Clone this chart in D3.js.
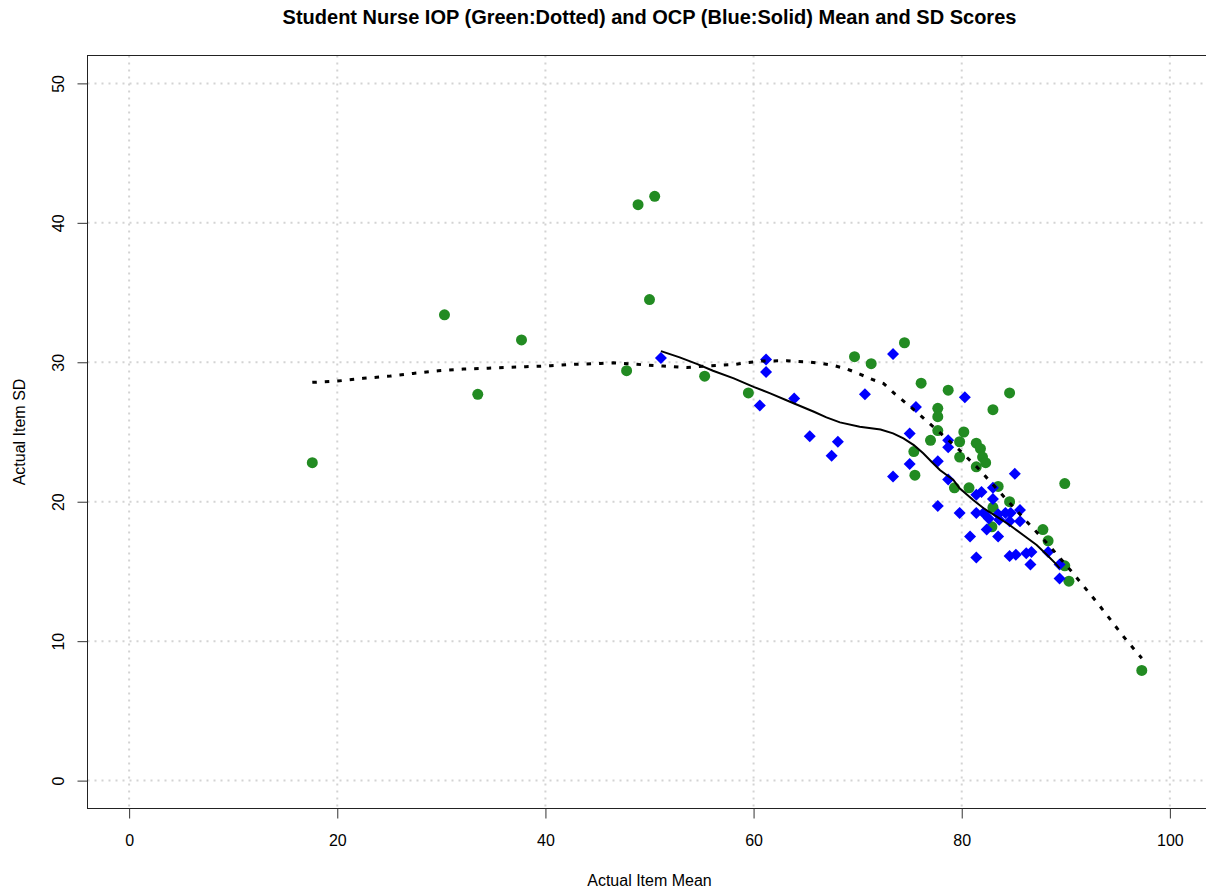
<!DOCTYPE html>
<html>
<head>
<meta charset="utf-8">
<script src="https://cdn.jsdelivr.net/npm/d3@7"></script>
<style>
    body { margin: 0; background: #fff; }
    text { font-family: "Liberation Sans", Arial, sans-serif; }
</style>
</head>
<body>
<svg id="chart" width="1206" height="892"></svg>
<script>
// tick values
const xTicks = [0, 20, 40, 60, 80, 100];
const yTicks = [0, 10, 20, 30, 40, 50];

// IOP (green) item mean / SD
const iopMean = [17.6, 30.3, 33.5, 37.7, 47.8, 48.9, 50.0, 50.5, 55.3, 59.5, 69.7, 71.3, 74.5, 75.4, 75.5,
    76.1, 77.0, 77.7, 77.7, 77.7, 78.7, 79.3, 79.8, 79.8, 80.2, 80.7, 81.4, 81.4, 81.8, 82.0, 82.3, 82.9,
    83.0, 83.0, 83.5, 84.6, 84.6, 87.8, 88.3, 89.9, 89.9, 90.3, 97.3];
const iopSd = [22.8, 33.4, 27.7, 31.6, 29.4, 41.3, 34.5, 41.9, 29.0, 27.8, 30.4, 29.9, 31.4, 23.6, 21.9,
    28.5, 24.4, 26.7, 26.1, 25.1, 28.0, 21.0, 24.3, 23.2, 25.0, 21.0, 24.2, 22.5, 23.8, 23.2, 22.8, 18.2,
    26.6, 19.6, 21.1, 27.8, 20.0, 18.0, 17.2, 21.3, 15.4, 14.3, 7.9];

// OCP (blue) item mean / SD
const ocpMean = [51.1, 60.6, 61.2, 61.2, 63.9, 65.4, 67.5, 68.1, 70.7, 73.4, 73.4, 75.0, 75.0, 75.6, 77.7,
    77.7, 78.7, 78.7, 78.7, 79.8, 80.3, 80.8, 81.4, 81.4, 81.4, 81.9, 82.1, 82.4, 82.6, 83.0, 83.0, 83.5,
    83.5, 83.6, 84.2, 84.6, 84.6, 84.7, 85.1, 85.2, 85.6, 85.6, 86.2, 86.6, 86.7, 88.3, 89.4, 89.4];
const ocpSd = [30.3, 26.9, 30.2, 29.3, 27.4, 24.7, 23.3, 24.3, 27.7, 30.6, 21.8, 24.9, 22.7, 26.8, 22.9,
    19.7, 24.4, 23.9, 21.6, 19.2, 27.5, 17.5, 20.5, 19.2, 16.0, 20.7, 19.2, 18.0, 18.8, 21.0, 20.2, 19.1,
    17.5, 18.7, 19.2, 18.6, 16.1, 19.2, 22.0, 16.2, 19.4, 18.6, 16.3, 15.5, 16.4, 16.4, 15.5, 14.5];

// smoothed curves
const iopFitX = [17.6, 20.0, 22.5, 25.1, 27.3, 29.7, 32.1, 34.5, 38.1, 40.5, 42.7, 45.3, 46.5, 48.8, 51.3,
    53.6, 55.8, 58.2, 59.5, 60.8, 63.2, 65.4, 66.7, 67.8, 69.0, 70.2, 71.4, 72.5, 73.6, 75.7, 77.8, 79.7,
    81.6, 84.2, 86.1, 88.3, 90.7, 93.2, 95.6, 97.3];
const iopFitY = [28.56, 28.65, 28.85, 29.01, 29.2, 29.39, 29.51, 29.58, 29.68, 29.75, 29.85, 29.92, 29.96,
    29.85, 29.73, 29.63, 29.75, 29.85, 29.99, 30.09, 30.11, 30.01, 29.89, 29.75, 29.51, 29.15, 28.77, 28.47,
    27.72, 26.41, 25.02, 23.76, 22.38, 20.24, 18.69, 16.95, 14.87, 12.59, 10.28, 8.77];
const ocpFitX = [51.1, 52.9, 54.6, 56.1, 58.1, 60.0, 61.6, 63.5, 65.8, 67.0, 68.3, 70.2, 72.2, 73.4, 74.4,
    75.4, 76.3, 77.1, 77.9, 79.2, 79.8, 81.1, 82.1, 83.4, 84.6, 85.9, 87.2, 88.2, 89.0, 89.4];
const ocpFitY = [30.8, 30.35, 29.87, 29.39, 28.85, 28.24, 27.77, 27.17, 26.45, 26.05, 25.69, 25.38, 25.18,
    24.9, 24.54, 24.06, 23.47, 22.87, 22.27, 21.56, 20.96, 20.12, 19.53, 18.92, 18.33, 17.61, 16.9, 16.18,
    15.58, 15.23];

const svg = d3.select("#chart");

// scales (R style 4% padding around 0-100 and 0-50)
const x = d3.scaleLinear().domain([-4, 104]).range([87.5, 1211.5]);
const y = d3.scaleLinear().domain([-2, 52]).range([808.5, 55.5]);

// grid
const grid = svg.append("g")
    .attr("stroke", "#d3d3d3")
    .attr("stroke-width", 2)
    .attr("stroke-dasharray", "2,5");
grid.selectAll(".vgrid")
    .data(xTicks)
    .enter()
    .append("line")
    .attr("x1", (d) => x(d))
    .attr("x2", (d) => x(d))
    .attr("y1", y.range()[1])
    .attr("y2", y.range()[0]);
grid.selectAll(".hgrid")
    .data(yTicks)
    .enter()
    .append("line")
    .attr("x1", x.range()[0])
    .attr("x2", x.range()[1])
    .attr("y1", (d) => y(d))
    .attr("y2", (d) => y(d));

// IOP points
svg.append("g")
    .selectAll("circle")
    .data(iopMean.map((m, i) => [m, iopSd[i]]))
    .enter()
    .append("circle")
    .attr("cx", (d) => x(d[0]))
    .attr("cy", (d) => y(d[1]))
    .attr("r", 5.5)
    .style("fill", "#228b22");

// OCP points (diamonds)
const diamond = "M0,-6L6,0L0,6L-6,0Z";
svg.append("g")
    .selectAll("path")
    .data(ocpMean.map((m, i) => [m, ocpSd[i]]))
    .enter()
    .append("path")
    .attr("d", diamond)
    .attr("transform", (d) => "translate(" + x(d[0]) + "," + y(d[1]) + ")")
    .style("fill", "#0000ff");

const line = d3
    .line()
    .x((d) => x(d[0]))
    .y((d) => y(d[1]));

// IOP smooth (dotted)
svg.append("path")
    .datum(iopFitX.map((v, i) => [v, iopFitY[i]]))
    .attr("d", line)
    .style("fill", "none")
    .style("stroke", "#000")
    .style("stroke-width", 3)
    .style("stroke-dasharray", "4.5,8");

// OCP smooth (solid)
svg.append("path")
    .datum(ocpFitX.map((v, i) => [v, ocpFitY[i]]))
    .attr("d", line)
    .style("fill", "none")
    .style("stroke", "#000")
    .style("stroke-width", 2);

// box
svg.append("rect")
    .attr("x", x.range()[0])
    .attr("y", y.range()[1])
    .attr("width", x.range()[1] - x.range()[0])
    .attr("height", y.range()[0] - y.range()[1])
    .style("fill", "none")
    .style("stroke", "#222")
    .style("stroke-width", 1);

// x axis
const gx = svg.append("g")
    .attr("transform", "translate(0," + y.range()[0] + ")")
    .call(d3.axisBottom(x).tickValues(xTicks).tickSize(10).tickPadding(16));
gx.select(".domain").remove();
gx.selectAll("line").attr("stroke", "#333");
gx.selectAll("text")
    .attr("fill", "#000")
    .style("font-size", "16px")
    .style("font-family", "Liberation Sans, Arial, sans-serif");

// y axis with rotated labels
const gy = svg.append("g")
    .attr("transform", "translate(" + x.range()[0] + ",0)")
    .call(d3.axisLeft(y).tickValues(yTicks).tickSize(10));
gy.select(".domain").remove();
gy.selectAll("line").attr("stroke", "#333");
gy.selectAll("text")
    .attr("x", 0)
    .attr("dy", null)
    .attr("text-anchor", "middle")
    .attr("transform", "translate(-24,0) rotate(-90)")
    .attr("fill", "#000")
    .style("font-size", "16px")
    .style("font-family", "Liberation Sans, Arial, sans-serif");

// title
svg.append("text")
    .attr("x", 649.5)
    .attr("y", 24)
    .attr("text-anchor", "middle")
    .style("font-size", "20px")
    .style("font-weight", "bold")
    .text("Student Nurse IOP (Green:Dotted) and OCP (Blue:Solid) Mean and SD Scores");

// axis labels
svg.append("text")
    .attr("x", 649.5)
    .attr("y", 886)
    .attr("text-anchor", "middle")
    .style("font-size", "16px")
    .text("Actual Item Mean");

svg.append("text")
    .attr("text-anchor", "middle")
    .attr("transform", "translate(25,432) rotate(-90)")
    .style("font-size", "16px")
    .text("Actual Item SD");
</script>
</body>
</html>
